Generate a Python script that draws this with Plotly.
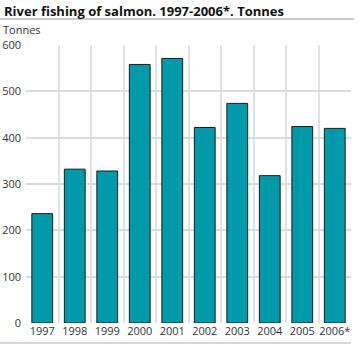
import plotly.graph_objects as go

years = ["1997", "1998", "1999", "2000", "2001", "2002", "2003", "2004", "2005", "2006*"]
tonnes = [236, 332, 328, 558, 571, 422, 474, 318, 424, 420]
y_ticks = [0, 100, 200, 300, 400, 500, 600]

fig = go.Figure()
fig.add_trace(go.Bar(
    x=years, y=tonnes,
    marker=dict(color="#009AAA", line=dict(color="#1a1a1a", width=1)),
    width=0.64,
))

PLOT_H = 278
fig.update_layout(
    width=358, height=347,
    margin=dict(l=26, r=7, t=45, b=24),
    paper_bgcolor="white", plot_bgcolor="white",
    showlegend=False,
    font=dict(family="Open Sans", size=11, color="#333333"),
    xaxis=dict(type="category", tickson="boundaries", showgrid=True,
               gridcolor="#e2e2e2", gridwidth=2, ticks="", range=[-0.5, 9.5],
               showline=False, zeroline=False, tickangle=0, automargin=False,
               tickfont=dict(size=11)),
    yaxis=dict(range=[0, 600], tickvals=y_ticks, showgrid=True,
               gridcolor="#dcdcdc", gridwidth=1.5, zeroline=False, ticks="",
               showline=False, ticklabelstandoff=4, automargin=False,
               tickfont=dict(size=11)),
    annotations=[
        dict(text="<b>River fishing of salmon. 1997-2006*. Tonnes</b>", x=0, y=1,
             xref="paper", yref="paper", xanchor="left", yanchor="bottom",
             showarrow=False, font=dict(size=13, color="#111111"),
             xshift=-24, yshift=23),
        dict(text="Tonnes", x=0, y=1, xref="paper", yref="paper",
             xanchor="left", yanchor="bottom", showarrow=False,
             font=dict(size=11, color="#333333"), xshift=-25, yshift=6),
    ],
    shapes=[
        dict(type="line", xref="paper", yref="paper", x0=-26/325, x1=1.01,
             y0=(323-19)/PLOT_H, y1=(323-19)/PLOT_H,
             line=dict(color="#b8b8b8", width=1.5)),
        dict(type="line", xref="paper", yref="paper", x0=-26/325, x1=1.0,
             y0=(323-343)/PLOT_H, y1=(323-343)/PLOT_H,
             line=dict(color="#c8c8c8", width=1.5)),
    ],
)

fig.write_html("out.html")
